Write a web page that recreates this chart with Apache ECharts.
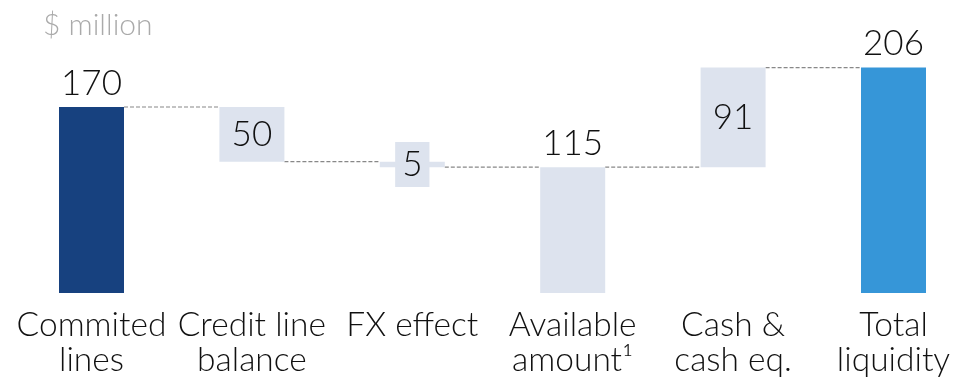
<!DOCTYPE html>
<html>
<head>
<meta charset="utf-8">
<script src="https://cdn.jsdelivr.net/npm/echarts@6/dist/echarts.min.js"></script>
<style>html,body{margin:0;padding:0;background:#fff}#c{width:958px;height:380px}</style>
</head>
<body>
<div id="c"></div>
<script>
const categories = ["Commited\nlines", "Credit line\nbalance", "FX effect", "Available\namount\u00b9", "Cash &\ncash eq.", "Total\nliquidity"];
const values = [170, 50, 5, 115, 91, 206];
const bases = [0, 120, 115, 0, 115, 0];
const connectorLevels = [170, 120, 115, 115, 206];
const unitLabel = "$ million";

const FONT = "Lato";
const BAR_W = 65;
const colors = ["#17417f", "#dde3ee", "#dde3ee", "#dde3ee", "#dde3ee", "#3696d8"];
const inside = [false, true, true, false, true, false];

const chart = echarts.init(document.getElementById('c'));
const valueData = values.map((v, i) => ({
  value: v,
  itemStyle: { color: colors[i] },
  label: inside[i] ? (i === 2 ? {
      position: 'inside', backgroundColor: '#dde3ee', padding: [5, 7, 5, 7], lineHeight: 35
    } : { position: 'inside' }) : { position: 'top', distance: 6 }
}));

chart.setOption({
  animation: false,
  title: {
    text: unitLabel, left: 38, top: 5,
    textStyle: { fontFamily: FONT, fontSize: 30, fontWeight: 300, color: '#aaaaaa' }
  },
  grid: { left: 11.3, width: 962.4, top: 30.4, bottom: 87, containLabel: false, outerBoundsMode: 'none' },
  xAxis: {
    type: 'category', data: categories,
    axisLine: { show: false }, axisTick: { show: false },
    axisLabel: { interval: 0, margin: 15, fontFamily: FONT, fontSize: 33.5, fontWeight: 300, lineHeight: 35, color: '#111' }
  },
  yAxis: { type: 'value', min: 0, max: 240, show: false, splitLine: { show: false } },
  series: [
    { type: 'bar', stack: 'w', data: bases, barWidth: BAR_W, itemStyle: { color: 'transparent' }, silent: true },
    {
      type: 'bar', stack: 'w', data: valueData, barWidth: BAR_W,
      label: { show: true, fontFamily: FONT, fontSize: 35, fontWeight: 300, color: '#111' }
    },
    {
      type: 'custom',
      data: connectorLevels.map((lv, i) => [i, lv]),
      renderItem: function (params, api) {
        const i = api.value(0), lv = api.value(1);
        const p1 = api.coord([i, lv]);
        const p2 = api.coord([i + 1, lv]);
        return {
          type: 'line',
          shape: { x1: p1[0] + BAR_W / 2, y1: p1[1], x2: p2[0] - BAR_W / 2, y2: p2[1] },
          style: { stroke: '#888', lineWidth: 1.2, lineDash: [4, 2] }
        };
      },
      z: 1
    }
  ]
});
</script>
</body>
</html>
